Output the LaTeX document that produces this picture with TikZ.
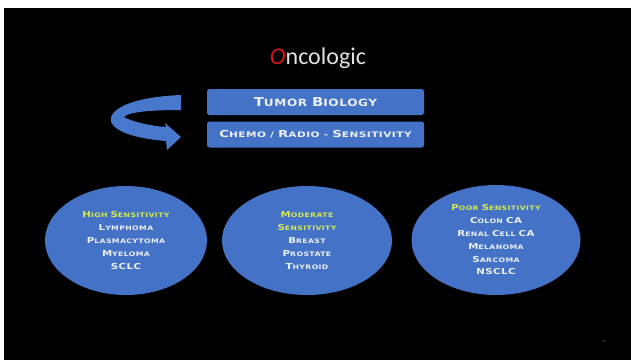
\documentclass[tikz,border=0pt]{standalone}
\usepackage{fontspec}
\setmainfont{Carlito}
\newfontfamily\ellfont[FakeStretch=1.25, LetterSpace=6]{DejaVu Sans}
\newfontfamily\boxafont[FakeStretch=1.21, LetterSpace=6]{DejaVu Sans}
\newfontfamily\boxbfont[FakeStretch=1.39, LetterSpace=6]{DejaVu Sans}
\definecolor{slideblue}{RGB}{68,114,198}
\definecolor{ribbonblue}{RGB}{72,120,204}
\definecolor{hiyel}{RGB}{214,232,82}
\definecolor{txtw}{RGB}{236,240,248}
\definecolor{titlegrey}{RGB}{225,225,225}
\definecolor{titlered}{RGB}{215,20,20}
\newcommand\Kb[1]{{\fontsize{12.3}{12}\selectfont #1}}
\newcommand\Kc[1]{{\fontsize{9.6}{10}\selectfont #1}}
\newcommand\Ks[1]{{\fontsize{8.2}{12.8}\selectfont #1}}
\tikzset{
  bluebox/.style={draw=none, fill=slideblue, rounded corners=2.5pt, minimum width=217pt, minimum height=26pt, inner sep=0pt,
    text=txtw},
  sellipse/.style={ellipse, draw=none, fill=slideblue, inner sep=0pt, align=center,
    text=txtw, font=\ellfont\bfseries\fontsize{6.2}{12.8}\selectfont},
}
\usetikzlibrary{shapes.geometric}
\begin{document}
\begin{tikzpicture}[x=1pt,y=-1pt]
\useasboundingbox (0,0) rectangle (631,360);
\fill[white] (0,0) rectangle (631,360);
\fill[black] (4,8) rectangle (631,360);
% title
\node[anchor=base, inner sep=0pt, text=titlegrey, font=\fontsize{24}{24}\selectfont] (title) at (318,64.5)
  {\textcolor{titlered}{\itshape O}ncologic};
% boxes
\node[bluebox, font=\boxafont\bfseries\fontsize{10}{10}\selectfont] (tb) at (315.5,102) {\Kb{T}UMOR \Kb{B}IOLOGY};
\node[bluebox, font=\boxbfont\bfseries\fontsize{7.6}{10}\selectfont] (cr) at (315.5,134.5) {\Kc{C}HEMO / \Kc{R}ADIO - \Kc{S}ENSITIVITY};
% curved arrow
\fill[ribbonblue] (181,95) -- (181,110)
  .. controls (150,110) and (128,112) .. (124,117)
  .. controls (130,121) and (150,126) .. (166,127)
  -- (165,123) -- (181,137) -- (167,150) -- (166,141)
  .. controls (140,139) and (116,133) .. (111,122)
  .. controls (108,110) and (130,97) .. (181,95) -- cycle;
% ellipses
\node[sellipse, minimum width=162pt, minimum height=109pt] (hs) at (126,240.5)
  {\textcolor{hiyel}{\Ks{H}IGH \Ks{S}ENSITIVITY}\\ \Ks{L}YMPHOMA\\ \Ks{P}LASMACYTOMA\\ \Ks{M}YELOMA\\ \Ks{SCLC}};
\node[sellipse, minimum width=170pt, minimum height=109pt] (ms) at (307,240.5)
  {\textcolor{hiyel}{\Ks{M}ODERATE}\\ \textcolor{hiyel}{\Ks{S}ENSITIVITY}\\ \Ks{B}REAST\\ \Ks{P}ROSTATE\\ \Ks{T}HYROID};
\node[sellipse, minimum width=169pt, minimum height=110pt] (ps) at (496,240)
  {\textcolor{hiyel}{\Ks{P}OOR \Ks{S}ENSITIVITY}\\ \Ks{C}OLON \Ks{CA}\\ \Ks{R}ENAL \Ks{C}ELL \Ks{CA}\\ \Ks{M}ELANOMA\\ \Ks{S}ARCOMA\\ \Ks{NSCLC}};
% slide number
\node[inner sep=0pt, text=gray, font=\fontsize{3}{3}\selectfont] (num) at (604,342) {42};
\end{tikzpicture}
\end{document}
